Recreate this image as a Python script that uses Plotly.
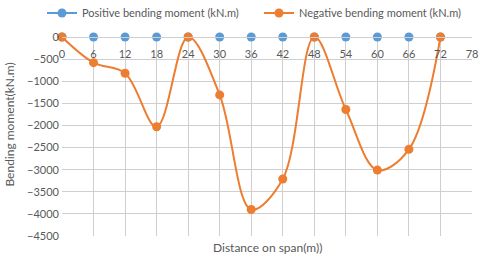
import plotly.graph_objects as go

span = [0, 6, 12, 18, 24, 30, 36, 42, 48, 54, 60, 66, 72]
positive_moment = [0, 0, 0, 0, 0, 0, 0, 0, 0, 0, 0, 0, 0]
negative_moment = [0, -580, -820, -2030, 0, -1310, -3900, -3210, 0, -1640, -3010, -2540, 0]
x_ticks = [0, 6, 12, 18, 24, 30, 36, 42, 48, 54, 60, 66, 72, 78]
y_ticks = [0, -500, -1000, -1500, -2000, -2500, -3000, -3500, -4000, -4500]

FONT = "Lato"
GRAY = "#595959"
GRID = "#CFCFCF"
W, H = 480, 258

fig = go.Figure()
fig.add_trace(go.Scatter(
    x=span, y=positive_moment, name="Positive bending moment (kN.m)",
    mode="lines+markers", line=dict(color="#5B9BD5", width=2),
    marker=dict(size=9, color="#5B9BD5"), cliponaxis=False, legend="legend",
))
fig.add_trace(go.Scatter(
    x=span, y=negative_moment, name="Negative bending moment (kN.m)",
    mode="lines+markers", line=dict(color="#ED7D31", width=2, shape="spline", smoothing=1),
    marker=dict(size=9, color="#ED7D31"), cliponaxis=False, legend="legend2",
))

leg_common = dict(orientation="h", xref="container", yref="container",
                  xanchor="left", yanchor="middle", font=dict(size=11, color=GRAY),
                  itemwidth=30, bgcolor="rgba(0,0,0,0)", borderwidth=0)

fig.update_layout(
    width=W, height=H,
    margin=dict(l=62, r=8, t=37, b=22, autoexpand=False),
    paper_bgcolor="white", plot_bgcolor="white",
    font=dict(family=FONT, size=11, color=GRAY),
    showlegend=True,
    legend=dict(x=42 / W, y=1 - 13 / H, **leg_common),
    legend2=dict(x=259 / W, y=1 - 13 / H, **leg_common),
    xaxis=dict(range=[0, 78], tickvals=x_ticks, side="bottom",
               anchor="free", position=1, ticklabelstandoff=7,
               showgrid=True, gridcolor=GRID, gridwidth=1,
               showline=True, linecolor=GRID, linewidth=1, mirror=False,
               zeroline=False, ticks="", tickfont=dict(size=11, color=GRAY)),
    yaxis=dict(range=[-4500, 0], tickvals=y_ticks, showgrid=True, gridcolor=GRID,
               gridwidth=1, zeroline=False, showline=False, ticks="",
               ticklabelstandoff=2, tickfont=dict(size=11, color=GRAY)),
    annotations=[
        dict(text="Distance on span(m))", x=0.5, y=0, xref="paper", yref="paper",
             xanchor="center", yanchor="top", yshift=-2, showarrow=False,
             font=dict(size=12, color=GRAY, family=FONT)),
        dict(text="Bending moment(kN.m)", x=0, y=0.56, xref="paper", yref="paper",
             xanchor="center", yanchor="middle", xshift=-52, textangle=-90,
             showarrow=False, font=dict(size=12, color=GRAY, family=FONT)),
    ],
)

fig.write_html("out.html", config={"displayModeBar": False},
               post_script="document.body.style.margin='0px';")
